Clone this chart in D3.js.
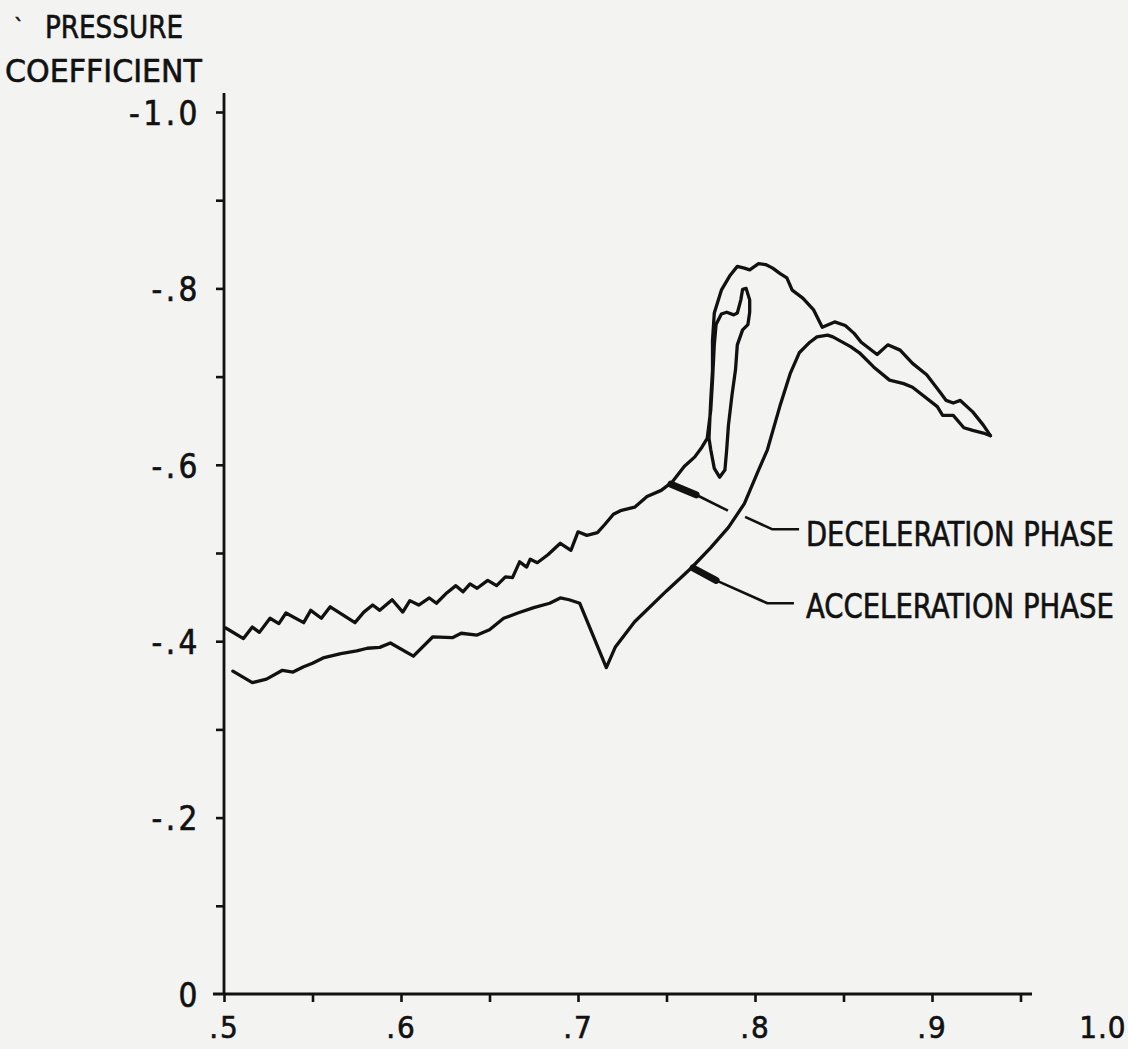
<!DOCTYPE html>
<html>
<head>
<meta charset="utf-8">
<script src="https://cdn.jsdelivr.net/npm/d3@7"></script>
<style>
  html, body { margin: 0; padding: 0; background: #f3f3f1; }
  svg { display: block; }
  text { font-family: "Liberation Sans Narrow", "DejaVu Sans Condensed", "DejaVu Sans", sans-serif; fill: #111; stroke: #111; stroke-width: 0.6px; }
</style>
</head>
<body>
<svg id="chart" width="1128" height="1049"></svg>
<script>
// ---- data (x/c, pressure coefficient) ----
const xTickValues = [0.5, 0.6, 0.7, 0.8, 0.9, 1.0];
const xTickLabels = [".5", ".6", ".7", ".8", ".9", "1.0"];
const yTickValues = [0, -0.2, -0.4, -0.6, -0.8, -1.0];
const yTickLabels = ["0", "-.2", "-.4", "-.6", "-.8", "-1.0"];
const xMinorTicks = [0.5, 0.55, 0.6, 0.65, 0.7, 0.75, 0.8, 0.85, 0.9, 0.95];
const yMinorTicks = [-0.1, -0.2, -0.3, -0.4, -0.5, -0.6, -0.7, -0.8, -0.9, -1.0];

const decelerationPhase = [
  [.501,-.415],[.511,-.403],[.516,-.416],[.520,-.410],[.526,-.426],[.531,-.420],[.535,-.432],
  [.545,-.421],[.549,-.435],[.555,-.426],[.560,-.439],[.574,-.421],[.579,-.433],[.584,-.441],
  [.588,-.435],[.595,-.447],[.601,-.433],[.605,-.446],[.610,-.441],[.616,-.449],[.620,-.443],
  [.626,-.455],[.631,-.463],[.635,-.456],[.639,-.465],[.643,-.460],[.649,-.469],[.654,-.463],
  [.659,-.473],[.663,-.472],[.667,-.490],[.671,-.484],[.673,-.493],[.677,-.489],[.683,-.498],
  [.690,-.511],[.696,-.503],[.700,-.524],[.705,-.520],[.711,-.523],[.715,-.532],[.720,-.544],
  [.724,-.548],[.732,-.552],[.739,-.564],[.747,-.571],[.753,-.580],[.760,-.598],[.766,-.609],
  [.770,-.620],[.773,-.630],
  [.775,-.662],[.776,-.696],[.777,-.736],[.778,-.759],[.781,-.771],[.784,-.773],[.788,-.770],
  [.790,-.772],[.792,-.787],[.793,-.799],[.795,-.800],[.797,-.787],[.797,-.773],[.796,-.759],
  [.793,-.753],[.790,-.736],[.789,-.708],[.787,-.679],[.785,-.645],[.784,-.617],[.783,-.594],
  [.780,-.586],[.777,-.596],[.775,-.617],[.774,-.630],
  [.775,-.673],[.776,-.707],[.776,-.741],[.777,-.772],[.781,-.798],[.786,-.815],[.790,-.825],
  [.794,-.823],[.797,-.821],[.802,-.828],[.806,-.827],[.810,-.823],[.814,-.817],[.818,-.812],
  [.821,-.798],[.827,-.789],[.833,-.776],[.838,-.756],[.845,-.762],[.851,-.758],[.856,-.749],
  [.860,-.739],[.869,-.725],[.875,-.736],[.882,-.730],[.889,-.715],[.897,-.702],[.905,-.681],
  [.908,-.673],[.912,-.670],[.916,-.673],[.923,-.660],[.929,-.645],[.933,-.633]
];

const accelerationPhase = [
  [.505,-.366],[.516,-.353],[.524,-.357],[.533,-.367],[.539,-.365],[.545,-.371],[.550,-.375],
  [.556,-.381],[.566,-.386],[.575,-.389],[.581,-.392],[.588,-.393],[.594,-.398],[.607,-.383],
  [.618,-.405],[.629,-.404],[.634,-.409],[.643,-.407],[.650,-.413],[.658,-.426],[.666,-.432],
  [.675,-.438],[.684,-.443],[.690,-.449],[.695,-.447],[.701,-.443],[.716,-.370],[.721,-.393],
  [.732,-.422],[.750,-.457],[.764,-.483],[.775,-.506],[.785,-.529],[.794,-.556],[.802,-.594],
  [.807,-.617],[.814,-.666],[.820,-.704],[.825,-.727],[.831,-.739],[.835,-.745],[.841,-.747],
  [.844,-.745],[.854,-.734],[.859,-.727],[.867,-.711],[.876,-.696],[.884,-.692],[.889,-.688],
  [.903,-.666],[.906,-.656],[.912,-.656],[.918,-.642],[.923,-.639],[.929,-.636],[.933,-.633]
];

// annotation leader lines (data units)
const decelPointerHead = [[.7525,-.578],[.7667,-.566]];
const decelPointerLine = [[.7667,-.566],[.7847,-.548]];
const decelLeader = [[.7944,-.541],[.8096,-.527],[.8249,-.527]];
const accelPointerHead = [[.765,-.483],[.778,-.469]];
const accelLeader = [[.778,-.469],[.807,-.443],[.822,-.443]];
const annotationLabels = [
  { text: "DECELERATION PHASE", x: .8288, y: -.508 },
  { text: "ACCELERATION PHASE", x: .8288, y: -.426 }
];

// ---- drawing ----
const svg = d3.select("#chart");
const x = d3.scaleLinear().domain([0.5, 1.0]).range([224, 1109]);
const y = d3.scaleLinear().domain([0, -1.0]).range([994, 112]);
const ink = "#111";

// fit a text horizontally to a given width by scaling its group
function fittedText(px, py, str, size, width) {
  const g = svg.append("g");
  const t = g.append("text").attr("x", 0).attr("y", 0).style("font-size", size + "px").text(str);
  const w = t.node().getComputedTextLength() || width;
  g.attr("transform", `translate(${px},${py}) scale(${width / w},1)`);
  return g;
}

// axis lines
svg.append("line").attr("x1", x(0.5)).attr("x2", x(0.5))
  .attr("y1", y(0)).attr("y2", y(-1.0215))
  .attr("stroke", ink).attr("stroke-width", 2.8);
svg.append("line").attr("x1", x(0.4938)).attr("x2", x(0.9565))
  .attr("y1", y(0)).attr("y2", y(0))
  .attr("stroke", ink).attr("stroke-width", 2.8);

// minor ticks
const yMinor = svg.append("g").attr("transform", `translate(${x(0.5)},0)`)
  .call(d3.axisLeft(y).tickValues(yMinorTicks).tickSize(8).tickFormat(""));
const xMinor = svg.append("g").attr("transform", `translate(0,${y(0)})`)
  .call(d3.axisBottom(x).tickValues(xMinorTicks).tickSize(8).tickFormat(""));
[yMinor, xMinor].forEach(g => {
  g.select(".domain").remove();
  g.selectAll("line").attr("stroke", ink).attr("stroke-width", 2.6);
});

// labels via axes
const yAx = svg.append("g").attr("transform", `translate(${x(0.5)},0)`)
  .call(d3.axisLeft(y).tickValues(yTickValues).tickSize(0)
    .tickFormat((d, i) => yTickLabels[i]));
yAx.select(".domain").remove();
yAx.selectAll("text").attr("x", -23).attr("dy", "0.37em")
  .style("font-size", "33px").style("letter-spacing", "3.5px").attr("fill", ink);

const xAx = svg.append("g").attr("transform", `translate(0,${y(0)})`)
  .call(d3.axisBottom(x).tickValues(xTickValues).tickSize(0)
    .tickFormat((d, i) => xTickLabels[i]));
xAx.select(".domain").remove();
xAx.selectAll("text").attr("y", 44).attr("dy", 0)
  .style("font-size", "31px").style("letter-spacing", "2px").attr("fill", ink);
// last label kept inside the page edge
xAx.selectAll(".tick").filter(d => d === 1.0).select("text")
  .attr("text-anchor", "end").attr("x", 1126 - x(1.0)).style("letter-spacing", "1px");

// axis title
svg.append("text").attr("x", 14).attr("y", 34).style("font-size", "22px").text("`");
fittedText(45, 38, "PRESSURE", 32, 138);
fittedText(5, 82, "COEFFICIENT", 32, 197);

// curves
const line = d3.line().x(d => x(d[0])).y(d => y(d[1])).curve(d3.curveLinear);
[decelerationPhase, accelerationPhase].forEach(series => {
  svg.append("path").datum(series).attr("d", line)
    .attr("fill", "none").attr("stroke", ink).attr("stroke-width", 3.3)
    .attr("stroke-linejoin", "round").attr("stroke-linecap", "round");
});

// annotations
[decelPointerHead, accelPointerHead].forEach(seg => {
  svg.append("path").datum(seg).attr("d", line).attr("fill", "none")
    .attr("stroke", ink).attr("stroke-width", 7).attr("stroke-linecap", "round");
});
[decelPointerLine, decelLeader, accelLeader].forEach(seg => {
  svg.append("path").datum(seg).attr("d", line).attr("fill", "none")
    .attr("stroke", ink).attr("stroke-width", 2.6).attr("stroke-linejoin", "round");
});
annotationLabels.forEach(d => fittedText(x(d.x), y(d.y), d.text, 34, 308));
</script>
</body>
</html>
